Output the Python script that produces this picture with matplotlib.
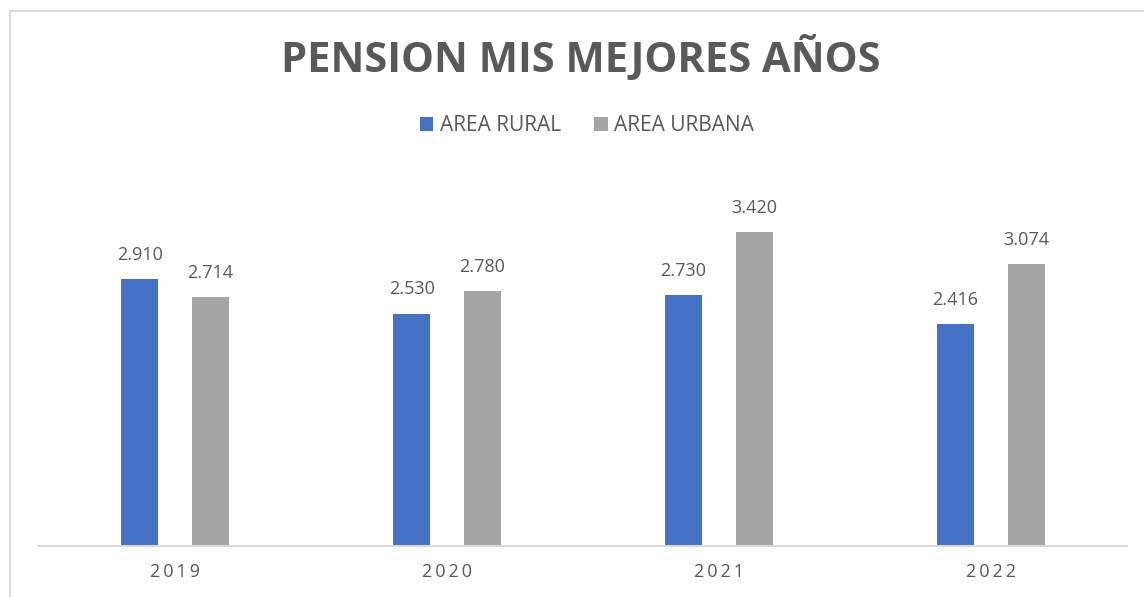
import numpy as np
import matplotlib.pyplot as plt
from matplotlib.patches import Rectangle

plt.rcParams['font.family'] = ['Open Sans', 'DejaVu Sans']

# datos
years = ["2019", "2020", "2021", "2022"]
rural = [2910, 2530, 2730, 2416]
urbana = [2714, 2780, 3420, 3074]
series_names = ["AREA RURAL", "AREA URBANA"]

c_rural = "#4472C4"
c_urbana = "#A5A5A5"
txt = "#595959"

fig = plt.figure(figsize=(11.44, 5.97), dpi=100)
ax = fig.add_axes([0.0341, 0.0854, 0.9510, 0.6151])

x = np.arange(len(years))
w = 0.136
off = 0.13
b1 = ax.bar(x - off, rural, w, color=c_rural, label=series_names[0], zorder=2)
b2 = ax.bar(x + off, urbana, w, color=c_urbana, label=series_names[1], zorder=2)

def fmt(v):
    return f"{v:,}".replace(",", ".")

for bars, vals in ((b1, rural), (b2, urbana)):
    for r, v in zip(bars, vals):
        ax.annotate(fmt(v), (r.get_x() + r.get_width() / 2, v), xytext=(0, 11),
                    textcoords="offset points", ha="center", va="bottom",
                    fontsize=13, color=txt)

ax.set_xlim(-0.5, 3.5)
ax.set_ylim(0, 4000)
ax.set_yticks([])
ax.set_xticks(x)
# espaciado entre letras como en el original
ax.set_xticklabels(["\u2009".join(y) for y in years], fontsize=13, color=txt)
ax.tick_params(axis="x", length=0, pad=12)
for s in ["top", "right", "left"]:
    ax.spines[s].set_visible(False)
ax.spines["bottom"].set_color("#D9D9D9")
ax.spines["bottom"].set_linewidth(1.5)

fig.text(0.508, 0.902, "PENSION MIS MEJORES AÑOS", ha="center", va="center",
         fontsize=30, fontweight="bold", color=txt)

fig.legend(loc="center", bbox_to_anchor=(0.513, 0.789), ncol=2, frameon=False,
           fontsize=15, handlelength=0.65, handleheight=0.65, handletextpad=0.3,
           columnspacing=1.6, labelcolor=txt)

fig.add_artist(Rectangle((10 / 1144, -0.1), 1.2, 1 - 11 / 597 + 0.1,
                         transform=fig.transFigure, fill=False,
                         edgecolor="#D9D9D9", linewidth=1.5))

fig.savefig("out.png", dpi=100)
